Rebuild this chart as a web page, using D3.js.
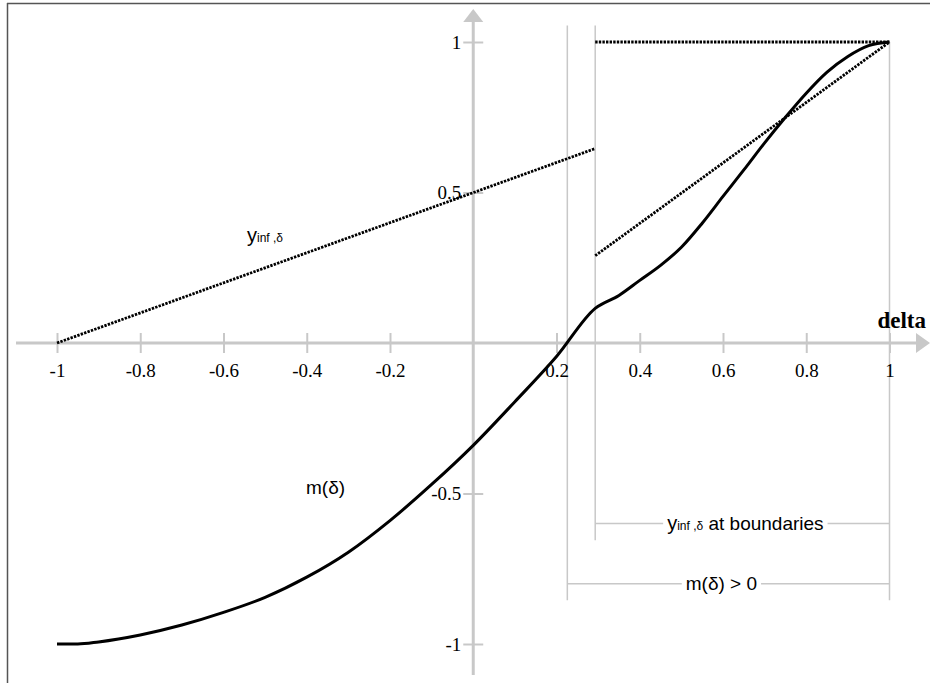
<!DOCTYPE html>
<html>
<head>
<meta charset="utf-8">
<script src="https://cdn.jsdelivr.net/npm/d3@7/dist/d3.min.js"></script>
<style>
  body { margin: 0; background: #fff; }
  svg { display: block; }
  .tick text { font-family: "Liberation Serif", "Times New Roman", serif; font-size: 19px; fill: #000; }
  .tick line { stroke: #c8c8c8; stroke-width: 2; }
  .note { font-family: "Liberation Sans", Arial, sans-serif; font-size: 19px; fill: #000; }
</style>
</head>
<body>
<svg width="930" height="683"></svg>
<script>
var svg = d3.select('svg');

// tick values
var xTicks = [-1, -0.8, -0.6, -0.4, -0.2, 0.2, 0.4, 0.6, 0.8, 1];
var yTicks = [-1, -0.5, 0.5, 1];

// m(delta)
var mDelta = [-1, -0.95, -0.9, -0.8, -0.7, -0.6, -0.5, -0.4, -0.3, -0.2, -0.1, 0, 0.1, 0.2, 0.293,
              0.35, 0.4, 0.45, 0.5, 0.55, 0.6, 0.65, 0.7, 0.75, 0.8, 0.85, 0.9, 0.95, 1];
var mValue = [-1, -1, -0.993, -0.97, -0.937, -0.895, -0.845, -0.778, -0.695, -0.59, -0.47, -0.34, -0.195, -0.045, 0.115,
              0.158, 0.208, 0.258, 0.318, 0.398, 0.487, 0.575, 0.665, 0.75, 0.83, 0.9, 0.952, 0.988, 1];

// y_inf,delta pieces (dotted)
var yInfLeftDelta = [-1, 0.293];
var yInfLeftValue = [0, 0.646];
var yInfRightDelta = [0.293, 1];
var yInfRightValue = [0.29, 1];
var yInfTopDelta = [0.293, 1];
var yInfTopValue = [1, 1];

// guide positions
var zeroCross = 0.226;
var boundary = 0.293;

var x = d3.scaleLinear().domain([-1, 1]).range([57, 889.5]);
var y = d3.scaleLinear().domain([-1, 1]).range([644, 42]);

var gray = '#c8c8c8';

// frame (top and left only)
svg.append('line').attr('x1', 7).attr('x2', 930).attr('y1', 3.5).attr('y2', 3.5)
    .attr('stroke', '#555').attr('stroke-width', 1.5);
svg.append('line').attr('x1', 7.5).attr('x2', 7.5).attr('y1', 3).attr('y2', 683)
    .attr('stroke', '#555').attr('stroke-width', 1.5);

// guide lines
var guides = [
    {d: zeroCross, top: 1.055, bottom: -0.855},
    {d: boundary, top: 1.055, bottom: -0.655},
    {d: 1, top: 1, bottom: -0.855}
];
svg.selectAll('.guide').data(guides).enter().append('line')
    .attr('class', 'guide')
    .attr('x1', function(d){ return x(d.d); })
    .attr('x2', function(d){ return x(d.d); })
    .attr('y1', function(d){ return y(d.top); })
    .attr('y2', function(d){ return y(d.bottom); })
    .attr('stroke', gray).attr('stroke-width', 1.5);

// x axis
var xAxisG = svg.append('g').attr('transform', 'translate(0,' + y(0) + ')')
    .call(d3.axisBottom(x).tickValues(xTicks).tickSize(10).tickPadding(11).tickFormat(String));
xAxisG.select('.domain').remove();
xAxisG.selectAll('.tick line').attr('y1', -10);
svg.append('line').attr('x1', 16).attr('x2', 918).attr('y1', y(0)).attr('y2', y(0))
    .attr('stroke', gray).attr('stroke-width', 3);
svg.append('path').attr('d', 'M916,' + (y(0) - 10) + 'L930,' + y(0) + 'L916,' + (y(0) + 10) + 'Z')
    .attr('fill', gray);

// y axis
var yAxisG = svg.append('g').attr('transform', 'translate(' + x(0) + ',0)')
    .call(d3.axisLeft(y).tickValues(yTicks).tickSize(10).tickPadding(2).tickFormat(String));
yAxisG.select('.domain').remove();
yAxisG.selectAll('.tick line').attr('x1', 10);
svg.append('line').attr('x1', x(0)).attr('x2', x(0)).attr('y1', 20).attr('y2', 675)
    .attr('stroke', gray).attr('stroke-width', 3);
svg.append('path').attr('d', 'M' + (x(0) - 10) + ',22L' + x(0) + ',9L' + (x(0) + 10) + ',22Z')
    .attr('fill', gray);

svg.append('text').attr('x', 926).attr('y', 328).attr('text-anchor', 'end')
    .style('font-family', '"Liberation Serif", "Times New Roman", serif')
    .style('font-size', '23px').style('font-weight', 'bold')
    .text('delta');

// brackets
var brackets = [
    {from: boundary, to: 1, level: -0.6},
    {from: zeroCross, to: 1, level: -0.8}
];
svg.selectAll('.bracket').data(brackets).enter().append('line')
    .attr('class', 'bracket')
    .attr('x1', function(d){ return x(d.from); })
    .attr('x2', function(d){ return x(d.to); })
    .attr('y1', function(d){ return y(d.level); })
    .attr('y2', function(d){ return y(d.level); })
    .attr('stroke', gray).attr('stroke-width', 1.5);

function yInfLabel(sel) {
    sel.append('tspan').style('font-size', '20px').text('y');
    sel.append('tspan').style('font-size', '12px').text('inf ,\u03b4');
}

// white patch behind a label so the bracket line breaks around it
function knockout(t) {
    var b = t.node().getBBox();
    svg.insert('rect', function(){ return t.node(); })
        .attr('x', b.x - 4).attr('y', b.y).attr('width', b.width + 8).attr('height', b.height)
        .attr('fill', '#fff');
}

var t1 = svg.append('text').attr('class', 'note')
    .attr('x', (x(boundary) + x(1)) / 2 + 3).attr('y', y(-0.6) + 6)
    .attr('text-anchor', 'middle');
yInfLabel(t1);
t1.append('tspan').text(' at boundaries');
knockout(t1);

var t3 = svg.append('text').attr('class', 'note')
    .attr('x', (x(zeroCross) + x(1)) / 2 - 7).attr('y', y(-0.8) + 6)
    .attr('text-anchor', 'middle')
    .text('m(\u03b4) > 0');
knockout(t3);

// curve labels
var t2 = svg.append('text').attr('class', 'note').attr('x', 247).attr('y', 242);
yInfLabel(t2);

svg.append('text').attr('class', 'note').attr('x', 306).attr('y', 494).text('m(\u03b4)');

// dotted y_inf series
var line = d3.line().x(function(d){ return x(d[0]); }).y(function(d){ return y(d[1]); });
var dotted = [
    d3.zip(yInfLeftDelta, yInfLeftValue),
    d3.zip(yInfRightDelta, yInfRightValue),
    d3.zip(yInfTopDelta, yInfTopValue)
];
svg.selectAll('.yinf').data(dotted).enter().append('path')
    .attr('class', 'yinf')
    .attr('d', line)
    .attr('fill', 'none').attr('stroke', '#000')
    .attr('stroke-width', 2.8).attr('stroke-dasharray', '2.4,1.2');

// m(delta) curve
var mLine = d3.line().curve(d3.curveMonotoneX)
    .x(function(d){ return x(d[0]); }).y(function(d){ return y(d[1]); });
svg.append('path')
    .datum(d3.zip(mDelta, mValue))
    .attr('d', mLine)
    .attr('fill', 'none').attr('stroke', '#000').attr('stroke-width', 3);
</script>
</body>
</html>
